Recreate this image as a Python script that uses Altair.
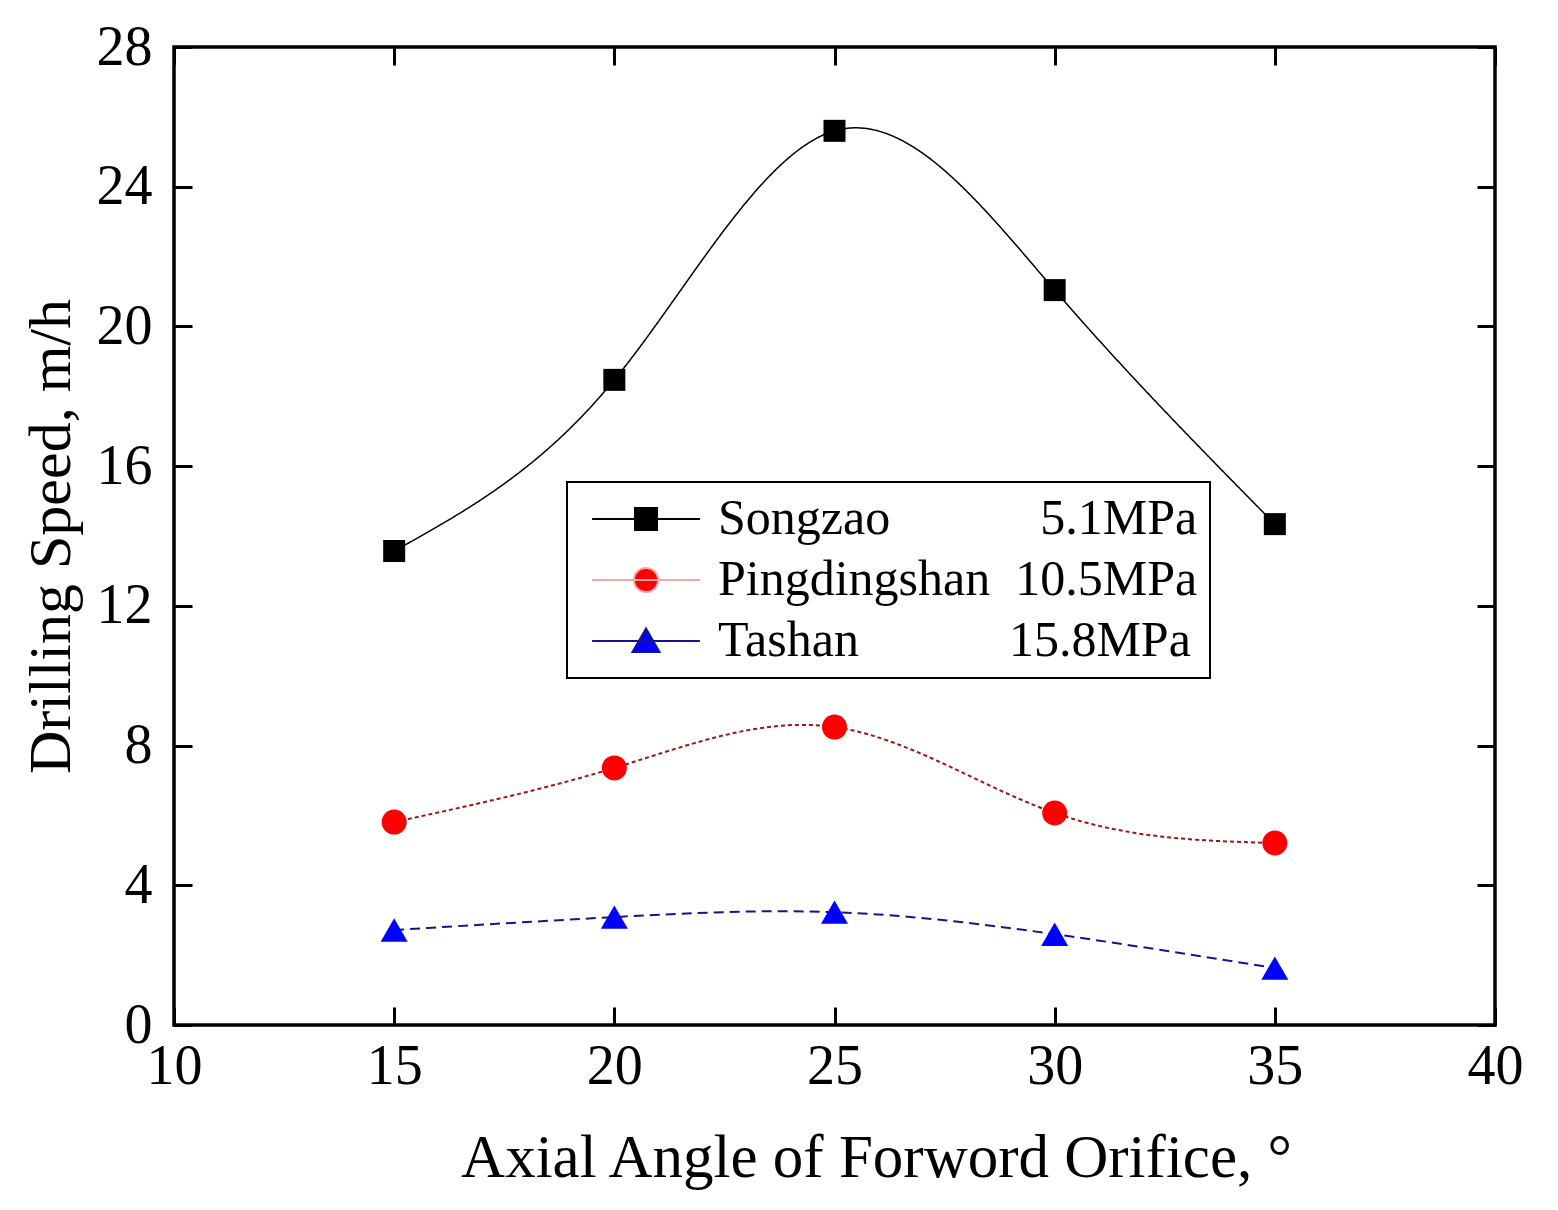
import altair as alt
import pandas as pd

# ---- data ----
angles = [15, 20, 25, 30, 35]
series_names = ["Songzao", "Pingdingshan", "Tashan"]
pressures = ["5.1MPa", "10.5MPa", "15.8MPa"]
songzao = [13.57, 18.47, 25.6, 21.04, 14.34]
pingdingshan = [5.81, 7.36, 8.53, 6.07, 5.21]
tashan = [2.72, 3.09, 3.23, 2.6, 1.63]
x_ticks = [10, 15, 20, 25, 30, 35, 40]
y_ticks = [0, 4, 8, 12, 16, 20, 24, 28]

# ---- styles ----
marker_fill = ["#000000", "#ff0000", "#0000ff"]
line_color = ["#000000", "#a01515", "#15158a"]
legend_line = ["#000000", "#f0a8a8", "#15158a"]
line_dash = [[1, 0], [4, 3], [10, 6]]
line_width = [1.5, 2, 2]
marker_shape = ["square", "circle", "triangle-up"]
marker_size = [484, 625, 729]
legend_paths = [
    "M-4.9,0H4.9M-1,-1H1V1H-1Z",
    "M-4.9,0H4.9M-1.1,0A1.1,1.1,0,1,0,1.1,0A1.1,1.1,0,1,0,-1.1,0Z",
    "M-4.9,0H4.9M0,-1.14L1.23,1.0L-1.23,1.0Z",
]
legend_pad_spaces = [12, 2, 12]

FONT = "Liberation Serif"
W, H = 1321, 978
TICK = 18

rows = []
for name, vals in zip(series_names, [songzao, pingdingshan, tashan]):
    for a, v in zip(angles, vals):
        rows.append({"series": name, "angle": a, "speed": v})
df = pd.DataFrame(rows)

nbsp = "\u00a0"
label_map = {n: n + nbsp * k + p for n, k, p in zip(series_names, legend_pad_spaces, pressures)}
label_expr = " : ".join(
    [f"datum.label == '{n}' ? '{label_map[n]}'" for n in series_names]
) + " : datum.label"

x_enc = alt.X(
    "angle:Q",
    scale=alt.Scale(domain=[10, 40], nice=False, zero=False),
    axis=alt.Axis(
        values=x_ticks, title="Axial Angle of Forword Orifice, \u00b0",
        grid=True, gridColor="black", gridWidth=3, gridDash=[TICK, H - 2 * TICK],
        gridOpacity=1, domain=False, ticks=False, tickSize=0,
        labelFont=FONT, labelFontSize=56, labelColor="black", labelPadding=14,
        labelFlush=False, labelOverlap=False,
        titleFont=FONT, titleFontSize=61, titleFontWeight="normal", titleColor="black",
        titlePadding=34, titleX=702, titleAlign="center",
    ),
)
y_enc = alt.Y(
    "speed:Q",
    scale=alt.Scale(domain=[0, 28], nice=False, zero=True),
    axis=alt.Axis(
        values=y_ticks, title="Drilling Speed, m/h",
        grid=True, gridColor="black", gridWidth=3, gridDash=[TICK, W - 2 * TICK],
        gridOpacity=1, domain=False, ticks=False, tickSize=0,
        labelFont=FONT, labelFontSize=56, labelColor="black", labelPadding=22,
        labelFlush=False, labelOverlap=False,
        titleFont=FONT, titleFontSize=60, titleFontWeight="normal", titleColor="black",
        titlePadding=14,
    ),
)

base = alt.Chart(df)
layers = []
for i, name in enumerate(series_names):
    sub = base.transform_filter(alt.datum.series == name)
    layers.append(
        sub.mark_line(
            interpolate="natural", color=line_color[i],
            strokeDash=line_dash[i], strokeWidth=line_width[i],
        ).encode(x=x_enc, y=y_enc)
    )
for i, name in enumerate(series_names):
    sub = base.transform_filter(alt.datum.series == name)
    layers.append(
        sub.mark_point(
            filled=True, shape=marker_shape[i], size=marker_size[i],
            color=marker_fill[i], opacity=1, strokeWidth=0,
        ).encode(x=x_enc, y=y_enc)
    )

leg = alt.Legend(
    title=None, orient="none", legendX=393, legendY=435,
    padding=12, strokeColor="black", fillColor="white",
    labelFont=FONT, labelFontSize=50, labelColor="black", labelExpr=label_expr,
    labelLimit=1000, symbolSize=484, symbolStrokeWidth=2, symbolOpacity=1,
    symbolOffset=42, labelOffset=47, rowPadding=11,
)
legend_layer = base.transform_filter("false").mark_point(
    filled=True, strokeWidth=2, opacity=1
).encode(
    x=x_enc, y=y_enc,
    fill=alt.Fill("series:N", scale=alt.Scale(domain=series_names, range=marker_fill), legend=leg),
    stroke=alt.Stroke("series:N", scale=alt.Scale(domain=series_names, range=legend_line), legend=leg),
    shape=alt.Shape("series:N", scale=alt.Scale(domain=series_names, range=legend_paths), legend=leg),
)
layers.append(legend_layer)

chart = (
    alt.layer(*layers)
    .properties(
        width=W, height=H,
        background="white",
        autosize=alt.AutoSizeParams(type="none"),
        padding={"left": 166, "top": 39, "right": 50, "bottom": 170},
    )
    .configure_view(stroke="black", strokeWidth=3.5)
    .configure_legend(strokeWidth=2)
)

chart.save("out.html", embed_options={"renderer": "svg", "actions": False})
